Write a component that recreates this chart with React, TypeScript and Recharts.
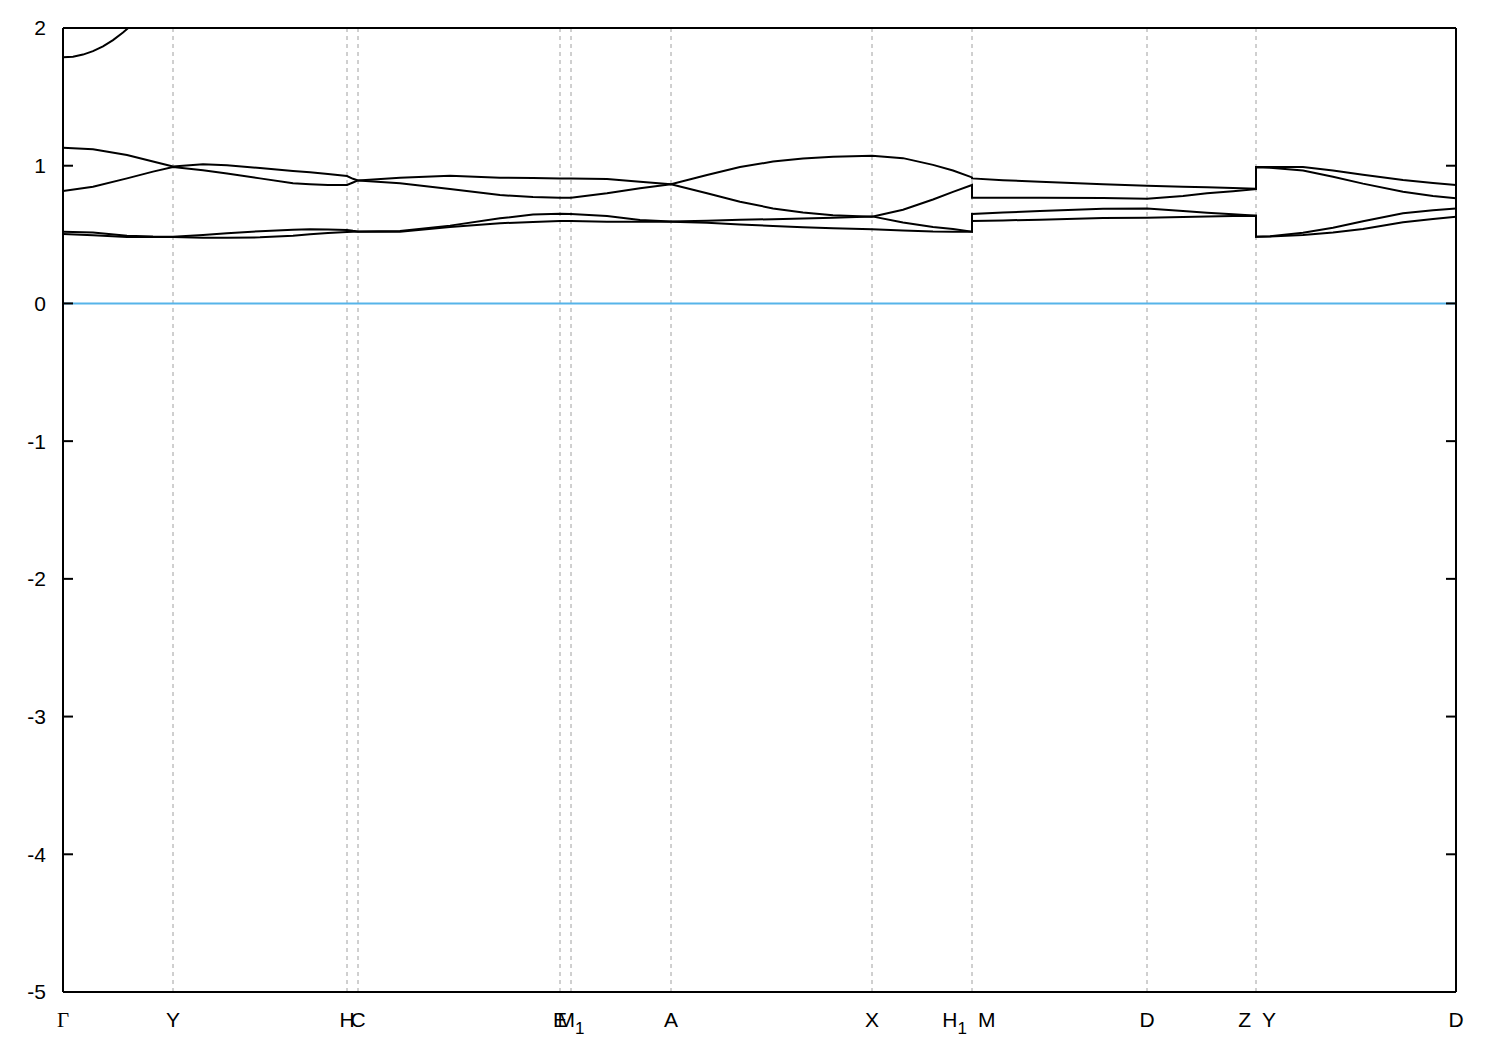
import { CartesianGrid, Line, LineChart, ReferenceLine, XAxis, YAxis } from "recharts";

const SANS = "'Liberation Sans', Arial, sans-serif";
const SERIF = "'Liberation Serif', 'DejaVu Serif', serif";
const GRID = "#a0a0a0";
const FERMI = "#56b4e9";

// path coordinate of each high-symmetry point (arbitrary units along the k-path)
const K_MAX = 1393;
const TICK_POS = [0, 110, 284, 295, 497, 508, 608, 809, 909, 1084, 1193, 1393];
const TICK_LABELS = ["Γ", "Y", "H", "C", "E", "M_1", "A", "X", "H_1|M", "D", "Z|Y", "D"];
const E_TICKS = [-5, -4, -3, -2, -1, 0, 1, 2];

// sampled k positions (repeated k = path break, drawn as a vertical jump)
const K = [
  0, 30, 64, 90, 110, 140, 164, 197, 230, 247, 265, 284, 290, 295, 337, 387, 437, 470, 497, 508,
  544, 577, 608, 644, 677, 710, 740, 770, 809, 840, 870, 890, 909, 909, 940, 977, 1040, 1084,
  1120, 1144, 1170, 1193, 1193, 1207, 1240, 1270, 1300, 1340, 1370, 1393,
];

const BAND1 = [
  0.504, 0.495, 0.482, 0.482, 0.483, 0.477, 0.477, 0.48, 0.492, 0.502, 0.512, 0.519, 0.521, 0.521,
  0.52, 0.555, 0.582, 0.592, 0.598, 0.598, 0.594, 0.593, 0.593, 0.586, 0.574, 0.563, 0.553, 0.546,
  0.538, 0.53, 0.522, 0.521, 0.521, 0.598, 0.603, 0.608, 0.621, 0.622, 0.628, 0.631, 0.635, 0.637,
  0.485, 0.486, 0.497, 0.515, 0.54, 0.589, 0.613, 0.63,
];
const BAND2 = [
  0.521, 0.515, 0.492, 0.486, 0.485, 0.497, 0.509, 0.525, 0.535, 0.538, 0.536, 0.533, 0.527, 0.523,
  0.526, 0.565, 0.618, 0.645, 0.652, 0.65, 0.635, 0.606, 0.595, 0.6, 0.607, 0.612, 0.616, 0.622,
  0.632, 0.587, 0.555, 0.54, 0.521, 0.649, 0.66, 0.671, 0.687, 0.69, 0.672, 0.659, 0.647, 0.637,
  0.485, 0.487, 0.513, 0.55, 0.597, 0.654, 0.676, 0.69,
];
const BAND3 = [
  0.816, 0.848, 0.908, 0.957, 0.99, 0.967, 0.943, 0.908, 0.872, 0.865, 0.86, 0.86, 0.878, 0.893,
  0.872, 0.831, 0.787, 0.772, 0.768, 0.768, 0.8, 0.836, 0.865, 0.8, 0.739, 0.69, 0.66, 0.64,
  0.63, 0.68, 0.755, 0.81, 0.86, 0.768, 0.768, 0.768, 0.766, 0.76, 0.78, 0.8, 0.815, 0.83,
  0.988, 0.985, 0.965, 0.92, 0.87, 0.811, 0.78, 0.763,
];
const BAND4 = [
  1.131, 1.12, 1.078, 1.03, 0.995, 1.01, 1.003, 0.983, 0.962, 0.952, 0.94, 0.925, 0.905, 0.893,
  0.913, 0.927, 0.913, 0.91, 0.908, 0.907, 0.903, 0.884, 0.865, 0.932, 0.99, 1.03, 1.052, 1.065,
  1.073, 1.055, 1.006, 0.965, 0.915, 0.908, 0.895, 0.884, 0.865, 0.855, 0.848, 0.843, 0.838, 0.833,
  0.99, 0.99, 0.99, 0.965, 0.935, 0.896, 0.875, 0.86,
];

// upper band near Gamma, leaves the window above 2 eV
const K5 = [0, 10, 20, 30, 40, 50, 60, 70, 80];
const BAND5 = [1.787, 1.792, 1.807, 1.832, 1.867, 1.912, 1.967, 2.03, 2.1];

const rows = K.map((k, i) => ({ k, b1: BAND1[i], b2: BAND2[i], b3: BAND3[i], b4: BAND4[i] }));
const rows5 = K5.map((k, i) => ({ k, b5: BAND5[i] }));

function Part({ s, x, y, anchor }: { s: string; x: number; y: number; anchor: "start" | "middle" | "end" }) {
  const [base, sub] = s.split("_");
  return (
    <text
      x={x}
      y={y}
      dy="0.71em"
      textAnchor={anchor}
      fill="#000"
      fontSize={21}
      fontFamily={base === "Γ" ? SERIF : SANS}
    >
      {base}
      {sub && (
        <tspan dy={7} fontSize={17}>
          {sub}
        </tspan>
      )}
    </text>
  );
}

function KTick(props: any) {
  const { x, y, payload } = props;
  const label = TICK_LABELS[TICK_POS.indexOf(payload.value)] ?? "";
  const parts = label.split("|");
  if (parts.length === 2) {
    return (
      <g>
        <Part s={parts[0]} x={x - 5} y={y} anchor="end" />
        <Part s={parts[1]} x={x + 6} y={y} anchor="start" />
      </g>
    );
  }
  return (
    <g>
      <Part s={label} x={x} y={y} anchor="middle" />
    </g>
  );
}

// mirrored axes only carry the inward tick marks
const NoLabel = () => <g />;
const TICK_LINE = { stroke: "#000", strokeWidth: 2 };

const band = { type: "linear" as const, stroke: "#000", strokeWidth: 2, dot: false, activeDot: false, isAnimationActive: false };

export default function App() {
  return (
    <div style={{ position: "absolute", left: 0, top: 0, width: 1500, height: 1050, background: "#fff" }}>
      <LineChart width={1500} height={1050} data={rows} margin={{ top: 28, right: 44, bottom: 0, left: 0 }}>
        <CartesianGrid horizontal={false} stroke={GRID} strokeDasharray="4 4" syncWithTicks />
        <XAxis
          dataKey="k"
          type="number"
          domain={[0, K_MAX]}
          allowDataOverflow
          ticks={TICK_POS}
          interval={0}
          height={58}
          tickLine={false}
          tickSize={0}
          tickMargin={20}
          tick={<KTick />}
          stroke="#000"
          strokeWidth={2}
        />
        <XAxis
          xAxisId="inB"
          type="number"
          domain={[0, K_MAX]}
          allowDataOverflow
          ticks={TICK_POS}
          interval={0}
          orientation="bottom"
          mirror
          tick={NoLabel}
          tickLine={TICK_LINE}
          tickSize={10}
          axisLine={false}
          stroke="#000"
          strokeWidth={2}
        />
        <XAxis
          xAxisId="inT"
          type="number"
          domain={[0, K_MAX]}
          allowDataOverflow
          ticks={TICK_POS}
          interval={0}
          orientation="top"
          mirror
          tick={NoLabel}
          tickLine={TICK_LINE}
          tickSize={10}
          stroke="#000"
          strokeWidth={2}
        />
        <YAxis
          domain={[-5, 2]}
          allowDataOverflow
          ticks={E_TICKS}
          interval={0}
          width={63}
          tickLine={false}
          tickSize={0}
          tickMargin={17}
          tick={{ fill: "#000", fontSize: 21, fontFamily: SANS }}
          stroke="#000"
          strokeWidth={2}
        />
        <YAxis
          yAxisId="inL"
          domain={[-5, 2]}
          allowDataOverflow
          ticks={E_TICKS}
          interval={0}
          mirror
          tick={NoLabel}
          tickLine={TICK_LINE}
          tickSize={10}
          axisLine={false}
          stroke="#000"
          strokeWidth={2}
        />
        <YAxis
          yAxisId="inR"
          orientation="right"
          domain={[-5, 2]}
          allowDataOverflow
          ticks={E_TICKS}
          interval={0}
          mirror
          tick={NoLabel}
          tickLine={TICK_LINE}
          tickSize={10}
          stroke="#000"
          strokeWidth={2}
        />
        <ReferenceLine y={0} stroke={FERMI} strokeWidth={2} />
        <Line dataKey="b1" {...band} />
        <Line dataKey="b2" {...band} />
        <Line dataKey="b3" {...band} />
        <Line dataKey="b4" {...band} />
        <Line data={rows5} dataKey="b5" {...band} />
      </LineChart>
    </div>
  );
}
